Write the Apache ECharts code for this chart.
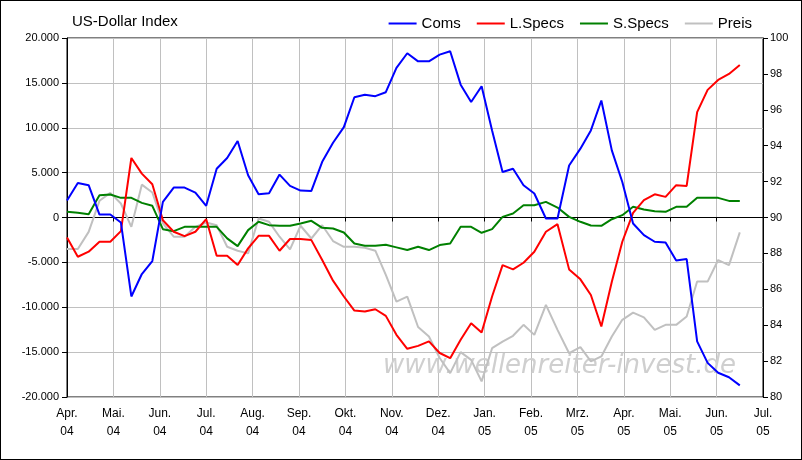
<!DOCTYPE html>
<html>
<head>
<meta charset="utf-8">
<script src="https://cdn.jsdelivr.net/npm/echarts@6/dist/echarts.min.js"></script>
<style>
html,body{margin:0;padding:0;background:#fff;}
#main{width:800px;height:458px;border:1px solid #000;}
</style>
</head>
<body>
<div id="main"></div>
<script>
let monthLabels = ['Apr.\n04','Mai.\n04','Jun.\n04','Jul.\n04','Aug.\n04','Sep.\n04','Okt.\n04','Nov.\n04','Dez.\n04','Jan.\n05','Feb.\n05','Mrz.\n05','Apr.\n05','Mai.\n05','Jun.\n05','Jul.\n05'];
let startDate = '2004-04-01';
let coms = [1900,3850,3600,330,330,-550,-8800,-6300,-4850,1740,3330,3330,2780,1300,5440,6630,8520,4700,2600,2700,4780,3520,3000,2960,6200,8330,10070,13400,13670,13520,13960,16670,18300,17400,
  17400,18150,18520,14800,12870,14630,9700,5070,5440,3590,2670,-110,-110,5800,7670,9700,13040,7480,3960,-670,-1960,-2700,-2780,-4800,-4630,-13800,-16200,-17300,-17800,-18700];
let lSpecs = [-2220,-4370,-3810,-2700,-2700,-1520,6630,4890,3700,-300,-1590,-2070,-1590,-185,-4260,-4260,-5300,-3440,-2040,-2040,-3700,-2400,-2400,-2520,-4740,-7040,-8800,-10370,-10480,-10220,-10960,-13070,-14630,
  -14300,-13800,-15100,-15670,-13630,-11780,-12810,-8800,-5300,-5780,-5040,-3810,-1590,-740,-5780,-6890,-8630,-12150,-7150,-2700,520,1930,2590,2300,3600,3520,11740,14220,15330,16000,17000];
let sSpecs = [630,520,370,2480,2560,2190,2190,1630,1300,-1300,-1520,-1040,-1040,-1040,-1040,-2330,-3190,-1410,-480,-850,-930,-930,-670,-370,-1150,-1220,-1670,-2890,-3150,-3150,-3040,-3330,-3630,
  -3260,-3630,-3070,-2890,-1040,-1040,-1700,-1300,70,440,1370,1370,1740,1110,70,-480,-890,-930,-190,260,1190,890,700,630,1190,1190,2190,2190,2190,1850,1850];
let preis = [88.24,88.24,89.2,90.93,91.37,90.78,89.48,91.83,91.39,89.67,88.93,88.93,89.48,89.72,89.57,88.37,88.15,88.0,89.94,89.76,88.93,88.22,89.54,88.83,89.57,88.69,88.37,88.37,88.31,88.15,86.8,85.31,85.59,
  83.9,83.37,82.17,81.33,82.5,82.07,80.87,82.72,83.09,83.41,84.02,83.46,85.13,83.74,82.44,82.78,81.98,82.26,83.37,84.3,84.7,84.44,83.74,84.02,84.02,84.48,86.43,86.43,87.63,87.35,89.17];

// weekly report dates -> position in months since April 2004
function monthPos(i) {
  let d = new Date(startDate + 'T00:00:00Z');
  d.setUTCDate(d.getUTCDate() + 7 * i);
  let m = (d.getUTCFullYear() - 2004) * 12 + d.getUTCMonth() - 3;
  let days = new Date(Date.UTC(d.getUTCFullYear(), d.getUTCMonth() + 1, 0)).getUTCDate();
  return m + (d.getUTCDate() - 1) / days;
}
function pairs(arr) { return arr.map((v, i) => [monthPos(i), v]); }

let font = 'Liberation Sans';
let myChart = echarts.init(document.getElementById('main'));
let lineSeries = (name, data, color, yIdx) => ({
  name: name, type: 'line', data: pairs(data), yAxisIndex: yIdx, showSymbol: false,
  lineStyle: {color: color, width: 2}, itemStyle: {color: color}, z: yIdx ? 2 : 3
});
let option = {
  backgroundColor: '#fff',
  animation: false,
  textStyle: {fontFamily: font},
  title: {text: 'US-Dollar Index', left: 66, top: 8, textStyle: {fontSize: 15, fontWeight: 'normal', color: '#000', fontFamily: font}},
  legend: {
    right: 44, top: 10, itemWidth: 28, itemHeight: 2, itemGap: 16, icon: 'rect',
    textStyle: {fontSize: 15, color: '#000', fontFamily: font},
    data: ['Coms', 'L.Specs', 'S.Specs', 'Preis']
  },
  grid: {left: 66, right: 38, top: 37, bottom: 62, show: true, borderColor: '#000', borderWidth: 1},
  xAxis: {
    type: 'value', min: 0, max: 15, interval: 1,
    axisLine: {lineStyle: {color: '#000'}},
    axisTick: {length: 4, lineStyle: {color: '#000'}},
    splitLine: {lineStyle: {color: '#c0c0c0'}},
    axisLabel: {color: '#000', fontSize: 12, lineHeight: 18, formatter: v => monthLabels[v]}
  },
  yAxis: [{
    type: 'value', min: -20000, max: 20000, interval: 5000,
    axisLine: {show: true, lineStyle: {color: '#000'}},
    axisTick: {show: true, length: 5, lineStyle: {color: '#000'}},
    splitLine: {lineStyle: {color: '#c0c0c0'}},
    axisLabel: {color: '#000', fontSize: 11, margin: 8, formatter: v => v === 0 ? '0' : (v < 0 ? '-' : '') + Math.abs(v / 1000) + '.000'}
  }, {
    type: 'value', min: 80, max: 100, interval: 2, position: 'right',
    axisLine: {show: true, lineStyle: {color: '#000'}},
    axisTick: {show: true, length: 5, lineStyle: {color: '#000'}},
    splitLine: {show: false},
    axisLabel: {color: '#000', fontSize: 11, margin: 7}
  }],
  graphic: [{
    type: 'text', left: 382, top: 352, z: 1,
    style: {text: 'www.wellenreiter-invest.de', fill: '#cfcfcf', font: 'italic 26px "DejaVu Sans"'}
  }],
  series: [
    lineSeries('Preis', preis, '#c0c0c0', 1),
    lineSeries('S.Specs', sSpecs, '#008000', 0),
    lineSeries('L.Specs', lSpecs, '#ff0000', 0),
    lineSeries('Coms', coms, '#0000ff', 0)
  ]
};
myChart.setOption(option);
</script>
</body>
</html>
